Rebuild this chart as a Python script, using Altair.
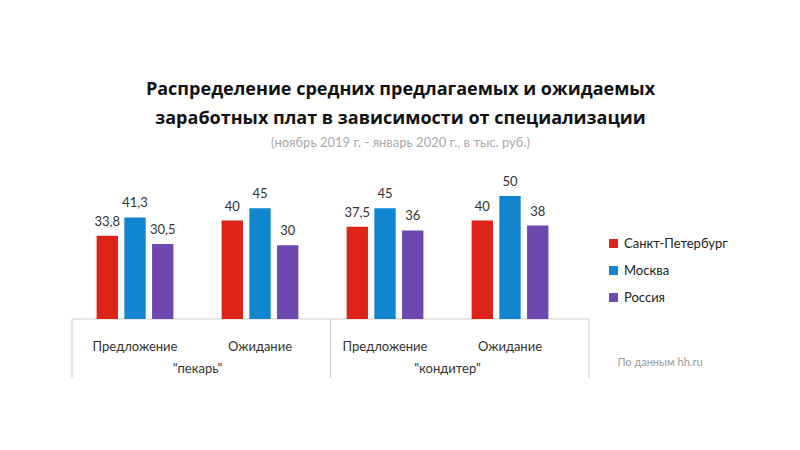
import altair as alt
import pandas as pd

groups = ['"пекарь"', '"кондитер"']
subs = ["Предложение", "Ожидание"]
cities = ["Санкт-Петербург", "Москва", "Россия"]
colors = ["#dd2218", "#1185cf", "#6c48b0"]
# values per city, order: пекарь-Предложение, пекарь-Ожидание, кондитер-Предложение, кондитер-Ожидание
spb = [33.8, 40, 37.5, 40]
msk = [41.3, 45, 45, 50]
rus = [30.5, 30, 36, 38]

keys = [g + "|" + s for g in groups for s in subs]
rows = []
for city, vals in zip(cities, [spb, msk, rus]):
    for k, v in zip(keys, vals):
        rows.append({"key": k, "city": city, "v": v})
df = pd.DataFrame(rows)

W, H = 517, 123
FONT = "Lato"

xscale = alt.Scale(domain=keys, paddingInner=0, paddingOuter=0.068, align=0.03)
xaxis = alt.Axis(title=None, labelExpr="split(datum.label, '|')[1]", domain=False,
                 ticks=False, labelAngle=0, labelPadding=21, labelFontSize=13,
                 labelColor="#333", labelFont=FONT)
x = alt.X("key:N", scale=xscale, sort=keys, axis=xaxis)
xo = alt.XOffset("city:N", sort=cities,
                 scale=alt.Scale(domain=cities, paddingInner=0.23, paddingOuter=0.87))
y = alt.Y("v:Q", scale=alt.Scale(domain=[0, 50], nice=False), axis=None)
color = alt.Color("city:N", sort=cities, scale=alt.Scale(domain=cities, range=colors),
                  legend=alt.Legend(title=None, orient="none", legendX=535, legendY=41,
                                    symbolType="square", symbolSize=80, labelFontSize=13,
                                    labelFont=FONT, labelColor="#222", rowPadding=13,
                                    symbolStrokeWidth=0))

base = alt.Chart(df)
bars = base.mark_bar().encode(x=x, xOffset=xo, y=y, color=color)
vals = base.transform_calculate(
    lab="replace(format(datum.v, ''), '.', ',')"
).mark_text(dy=-7, fontSize=13, color="#333", font=FONT, baseline="bottom").encode(
    x=x, xOffset=xo, y=y, text="lab:N")

gdf = pd.DataFrame({"key": [keys[0], keys[2]], "g": groups, "v": [0, 0]})
glabels = alt.Chart(gdf).mark_text(fontSize=13, color="#333", font=FONT, dy=50,
                                   baseline="middle").encode(
    x=alt.X("key:N", scale=xscale, sort=keys, bandPosition=1, axis=xaxis),
    y=y,
    text="g:N")

line_color = "#cfcfcf"
frame_df = pd.DataFrame({"v": [0]})
top_line = alt.Chart(frame_df).mark_rule(color=line_color, strokeWidth=1).encode(
    x=alt.value(0), x2=alt.value(W), y=alt.value(H))
vlines = [alt.Chart(frame_df).mark_rule(color=line_color, strokeWidth=1).encode(
    x=alt.value(px), y=alt.value(H), y2=alt.value(H + 59)) for px in [0, 258.5, W]]

source = alt.Chart(frame_df).mark_text(text="По данным hh.ru", fontSize=11, color="#9a9a9a",
                                       font=FONT, align="center", baseline="middle").encode(
    x=alt.value(588), y=alt.value(167))

chart = alt.layer(top_line, *vlines, bars, vals, glabels, source).properties(
    width=W, height=H,
    background="white",
    title=alt.TitleParams(
        text=["Распределение средних предлагаемых и ожидаемых",
              "заработных плат в зависимости от специализации"],
        subtitle="(ноябрь 2019 г. - январь 2020 г., в тыс. руб.)",
        font="Open Sans", fontSize=18, fontWeight="bold", color="#111", lineHeight=29,
        subtitleFont=FONT, subtitleFontSize=13, subtitleColor="#aaaaaa",
        subtitlePadding=9, anchor="middle", dx=70, offset=26),
    autosize=alt.AutoSizeParams(type="none"),
    padding={"left": 64, "top": 188, "right": 200, "bottom": 100},
).configure_view(stroke="transparent", strokeWidth=0)

chart.save("out.html", embed_options={"renderer": "svg", "actions": False})
